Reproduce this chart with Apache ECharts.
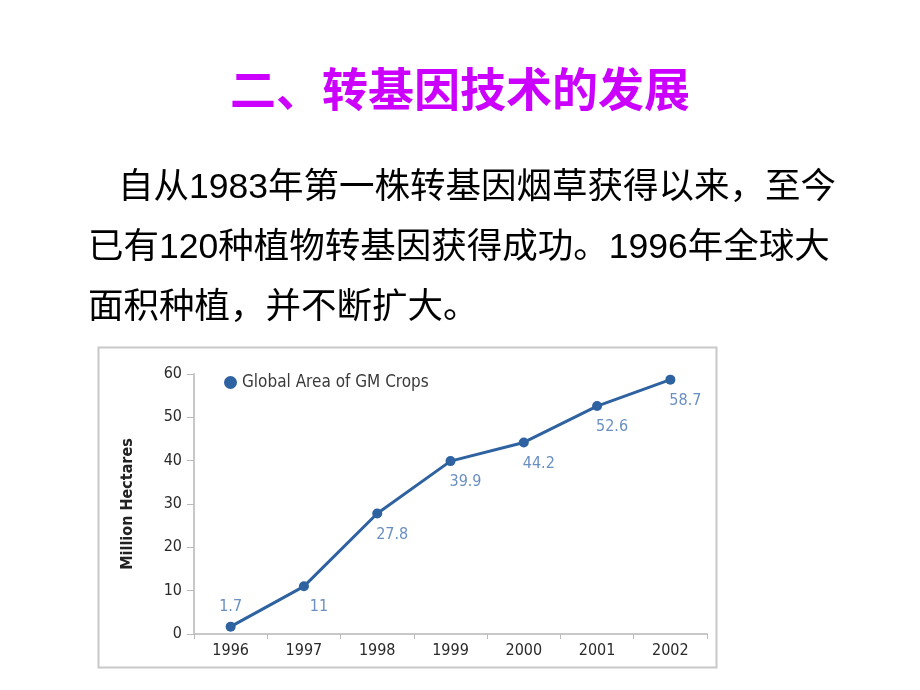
<!DOCTYPE html>
<html>
<head>
<meta charset="utf-8">
<script src="https://cdn.jsdelivr.net/npm/echarts@6/dist/echarts.min.js"></script>
<style>
html,body{margin:0;padding:0;background:#fff;}
#c{width:920px;height:690px;}
</style>
</head>
<body>
<div id="c"></div>
<script>
var titleText = '二、转基因技术的发展';
var paraLines = [
  '自从1983年第一株转基因烟草获得以来，至今',
  '已有120种植物转基因获得成功。1996年全球大',
  '面积种植，并不断扩大。'
];
var years = ['1996', '1997', '1998', '1999', '2000', '2001', '2002'];
var areas = [1.7, 11, 27.8, 39.9, 44.2, 52.6, 58.7];
var seriesName = 'Global Area of GM Crops';
var yAxisName = 'Million Hectares';

var chart = echarts.init(document.getElementById('c'));
var cond = '"Liberation Sans Narrow","DejaVu Sans Condensed","Roboto",sans-serif';
var cjk = '"Liberation Sans","Noto Sans CJK SC",sans-serif';

var paraX = [118, 88, 88];
var paraY = [190, 250, 310];
var graphics = [
  {type:'rect', shape:{x:98.5, y:347.5, width:618, height:320}, style:{fill:'none', stroke:'#c8c8c8', lineWidth:2}, z:-1}
];
paraLines.forEach(function(t, i){
  graphics.push({type:'text', left:paraX[i], top:paraY[i]-20,
    style:{text:t, fill:'#000', font:'35.5px ' + cjk}});
});

chart.setOption({
  animation:false,
  title:{text:titleText, left:'center', top:61,
    textStyle:{color:'#CC00FF', fontSize:46, fontWeight:'bold', fontFamily:'"Noto Sans CJK SC",sans-serif'}},
  graphic:graphics,
  legend:{data:[{name:seriesName, icon:'circle'}], left:219, top:369, itemWidth:13, itemHeight:13, itemGap:6,
    textStyle:{color:'#3a3a3a', fontSize:17, fontFamily:cond}},
  grid:{left:194, right:213, top:374, bottom:56},
  xAxis:{type:'category', data:years, boundaryGap:true,
    axisLine:{lineStyle:{color:'#c8c8c8', width:2}},
    axisTick:{show:true, length:5, lineStyle:{color:'#bbb'}},
    axisLabel:{color:'#2a2a2a', fontSize:16, fontFamily:cond, margin:9}},
  yAxis:{type:'value', min:0, max:60, interval:10,
    name:yAxisName, nameLocation:'middle', nameGap:58, nameRotate:90,
    nameTextStyle:{color:'#222', fontSize:16, fontWeight:'bold', fontFamily:cond},
    axisLine:{show:true, lineStyle:{color:'#c8c8c8', width:2}},
    axisTick:{show:true, length:7, lineStyle:{color:'#bbb'}},
    splitLine:{show:false},
    axisLabel:{color:'#2a2a2a', fontSize:16, fontFamily:cond, margin:12}},
  series:[{
    name:seriesName, type:'line', data:areas.map(function(v, i){
      return {value:v, label: i === 0 ? {position:'top', offset:[0,-2]} : {position:'bottom', offset:[15,3]}};
    }),
    symbol:'circle', symbolSize:10,
    lineStyle:{color:'#2e62a0', width:3},
    itemStyle:{color:'#2e62a0'},
    label:{show:true, color:'#6a8fc2', fontSize:16, fontFamily:cond}
  }]
});
</script>
</body>
</html>
